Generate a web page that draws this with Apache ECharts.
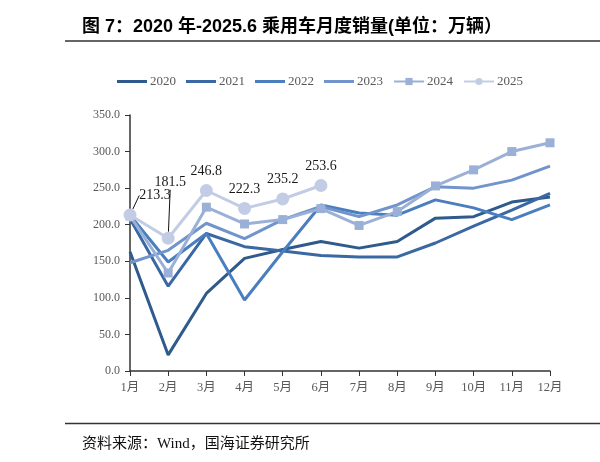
<!DOCTYPE html>
<html>
<head>
<meta charset="utf-8">
<script src="https://cdn.jsdelivr.net/npm/echarts@6/dist/echarts.min.js"></script>
<style>
html,body{margin:0;padding:0;background:#fff;}
#chart{width:600px;height:462px;}
</style>
</head>
<body>
<div id="chart"></div>
<script>
var months = ['1月','2月','3月','4月','5月','6月','7月','8月','9月','10月','11月','12月'];
var yTicks = [0, 50, 100, 150, 200, 250, 300, 350];
var s2020 = [163, 22, 106, 154, 166, 177, 168, 177, 209, 211, 231, 238];
var s2021 = [208, 116, 188, 170, 164, 158, 156, 156, 175, 198, 220, 243];
var s2022 = [213, 149, 188, 97, 163, 227, 216, 213, 234, 223, 207, 227];
var s2023 = [148, 165, 202, 181, 207, 225, 211, 227, 252, 250, 261, 280];
var s2024 = [212, 134, 224, 201, 207, 222, 199, 218, 253, 275, 300, 312];
var s2025 = [213.3, 181.5, 246.8, 222.3, 235.2, 253.6];
var seriesNames = ['2020','2021','2022','2023','2024','2025'];
var titleText = '图 7：2020 年-2025.6 乘用车月度销量(单位：万辆）';
var footerText = '资料来源：Wind，国海证券研究所';

var colors = ['#2F5A8C','#3A68A3','#4A7EBE','#7094CB','#9BB0D7','#C2CDE5'];
var serif = 'Liberation Serif, Times New Roman, Noto Sans CJK SC, serif';
var lineIcon = 'path://M0,0 L40,0 L40,4 L0,4 Z';

var chart = echarts.init(document.getElementById('chart'));

function lineSeries(name, data, idx) {
  return {
    name: name,
    type: 'line',
    data: data,
    symbol: 'none',
    lineStyle: { width: 3, color: colors[idx] },
    itemStyle: { color: colors[idx] },
    z: 2 + idx
  };
}

var data2025 = s2025.map(function (v, i) {
  var item = { value: v };
  if (i < 2) item.labelLine = { show: true, lineStyle: { color: '#111', width: 1 } };
  return item;
});

var series = [
  lineSeries(seriesNames[0], s2020, 0),
  lineSeries(seriesNames[1], s2021, 1),
  lineSeries(seriesNames[2], s2022, 2),
  lineSeries(seriesNames[3], s2023, 3),
  {
    name: seriesNames[4], type: 'line', data: s2024,
    symbol: 'rect', symbolSize: 9,
    lineStyle: { width: 3, color: colors[4] },
    itemStyle: { color: colors[4] }, z: 6
  },
  {
    name: seriesNames[5], type: 'line', data: data2025,
    symbol: 'circle', symbolSize: 13,
    lineStyle: { width: 3, color: colors[5] },
    itemStyle: { color: colors[5] }, z: 7,
    label: {
      show: true, position: 'top', distance: 6,
      fontSize: 14, fontFamily: serif, color: '#1a1a1a',
      formatter: function (p) { return p.value.toFixed(1); }
    },
    labelLine: { show: false },
    labelLayout: function (p) {
      if (p.dataIndex === 0) return { dx: 25, dy: 0 };
      if (p.dataIndex === 1) return { dx: 2, dy: -36 };
      return {};
    }
  }
];

var legendData = seriesNames.map(function (n, i) {
  return i < 4 ? { name: n, icon: lineIcon } : { name: n };
});

var option = {
  backgroundColor: '#fff',
  animation: false,
  title: [
    {
      text: titleText, left: 77, top: 13,
      textStyle: { fontSize: 18, fontWeight: 'bold', color: '#000',
        fontFamily: 'Liberation Sans, Arial, Noto Sans CJK SC, sans-serif' }
    },
    {
      text: footerText, left: 77, top: 432,
      textStyle: { fontSize: 15, fontWeight: 'normal', color: '#111',
        fontFamily: 'Liberation Serif, Noto Sans CJK SC, serif' }
    }
  ],
  graphic: [
    { type: 'line', shape: { x1: 65, y1: 41, x2: 600, y2: 41 }, style: { stroke: '#333', lineWidth: 1.5 } },
    { type: 'line', shape: { x1: 65, y1: 423.5, x2: 600, y2: 423.5 }, style: { stroke: '#333', lineWidth: 1.5 } }
  ],
  legend: {
    data: legendData, left: 117, top: 75, padding: 0,
    itemWidth: 30, itemHeight: 9, itemGap: 10,
    textStyle: { fontSize: 13, fontFamily: serif, color: '#595959', padding: [0,0,0,-2] }
  },
  grid: { left: 130, right: 50, top: 115, bottom: 91 },
  xAxis: {
    type: 'category', data: months, boundaryGap: false,
    axisLine: { lineStyle: { color: '#333', width: 1.5 } },
    axisTick: { show: true, length: 5, lineStyle: { color: '#333' } },
    axisLabel: { fontSize: 12.5, fontFamily: serif, color: '#595959', margin: 10 }
  },
  yAxis: {
    type: 'value', min: yTicks[0], max: yTicks[yTicks.length - 1], interval: 50,
    axisLine: { show: true, lineStyle: { color: '#333', width: 1.5 } },
    axisTick: { show: true, length: 5, lineStyle: { color: '#333' } },
    splitLine: { show: false },
    axisLabel: { fontSize: 12, fontFamily: serif, color: '#595959', margin: 10,
      formatter: function (v) { return v.toFixed(1); } }
  },
  series: series
};
chart.setOption(option);
</script>
</body>
</html>
